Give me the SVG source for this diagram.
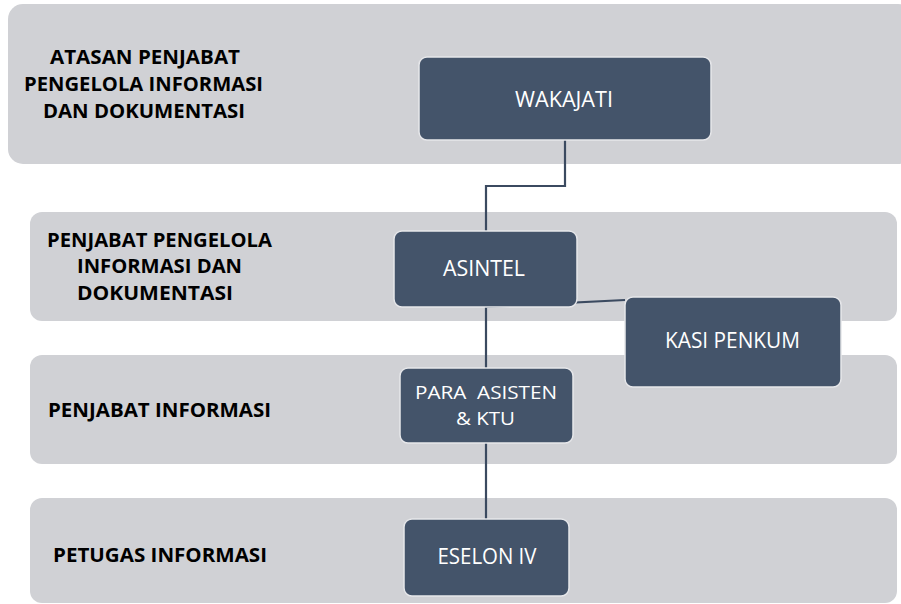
<svg xmlns="http://www.w3.org/2000/svg" width="901" height="604" viewBox="0 0 901 604">
<style>
.band{fill:#D0D1D5;}
.lbl{font-family:"Open Sans","Noto Sans",sans-serif;font-weight:bold;font-size:19.5px;fill:#000;}
.box{fill:#44546A;stroke:#E6E7EA;stroke-width:1.5;}
.bt{font-family:"Open Sans","Noto Sans",sans-serif;font-size:21px;fill:#FFFFFF;text-anchor:middle;}
.bt2{font-size:19px;}
.con{fill:none;stroke:#3B4A60;stroke-width:2.2;}
</style>
<rect width="901" height="604" fill="#FFFFFF"/>
<g id="band1">
<rect class="band" x="8" y="4" width="905" height="160" rx="15"/>
<text class="lbl" x="50" y="64" textLength="190" lengthAdjust="spacingAndGlyphs">ATASAN PENJABAT</text>
<text class="lbl" x="24" y="91" textLength="239" lengthAdjust="spacingAndGlyphs">PENGELOLA INFORMASI</text>
<text class="lbl" x="43" y="118" textLength="202" lengthAdjust="spacingAndGlyphs">DAN DOKUMENTASI</text>
</g>
<g id="band2">
<rect class="band" x="30" y="212" width="867" height="109" rx="12"/>
<text class="lbl" x="47" y="247" textLength="225" lengthAdjust="spacingAndGlyphs">PENJABAT PENGELOLA</text>
<text class="lbl" x="77" y="273" textLength="165" lengthAdjust="spacingAndGlyphs">INFORMASI DAN</text>
<text class="lbl" x="77" y="300" textLength="156" lengthAdjust="spacingAndGlyphs">DOKUMENTASI</text>
</g>
<g id="band3">
<rect class="band" x="30" y="355" width="867" height="109" rx="12"/>
<text class="lbl" x="48" y="417" textLength="223" lengthAdjust="spacingAndGlyphs">PENJABAT INFORMASI</text>
</g>
<g id="band4">
<rect class="band" x="30" y="498" width="867" height="105" rx="12"/>
<text class="lbl" x="53" y="562" textLength="214" lengthAdjust="spacingAndGlyphs">PETUGAS INFORMASI</text>
</g>
<g id="connectors">
<polyline class="con" points="565,140 565,186 486,186 486,231"/>
<line class="con" x1="486" y1="307" x2="486" y2="368"/>
<line class="con" x1="486" y1="307" x2="625" y2="300"/>
<line class="con" x1="486" y1="443" x2="486" y2="519"/>
</g>
<g id="wakajati">
<rect class="box" x="419" y="57" width="292" height="83" rx="8"/>
<text class="bt" x="564" y="107" textLength="98" lengthAdjust="spacingAndGlyphs">WAKAJATI</text>
</g>
<g id="asintel">
<rect class="box" x="394" y="231" width="183" height="76" rx="8"/>
<text class="bt" x="484" y="276" textLength="82" lengthAdjust="spacingAndGlyphs">ASINTEL</text>
</g>
<g id="kasi-penkum">
<rect class="box" x="625" y="297" width="216" height="90" rx="8"/>
<text class="bt" x="732.5" y="348" textLength="135" lengthAdjust="spacingAndGlyphs">KASI PENKUM</text>
</g>
<g id="para-asisten">
<rect class="box" x="400" y="368" width="173" height="75" rx="8"/>
<text class="bt bt2" x="486" y="399" textLength="142" lengthAdjust="spacingAndGlyphs" xml:space="preserve">PARA  ASISTEN</text>
<text class="bt bt2" x="485.5" y="425" textLength="59" lengthAdjust="spacingAndGlyphs">&amp; KTU</text>
</g>
<g id="eselon-iv">
<rect class="box" x="404" y="519" width="165" height="77" rx="8"/>
<text class="bt" x="487" y="564" textLength="99" lengthAdjust="spacingAndGlyphs">ESELON IV</text>
</g>
</svg>
